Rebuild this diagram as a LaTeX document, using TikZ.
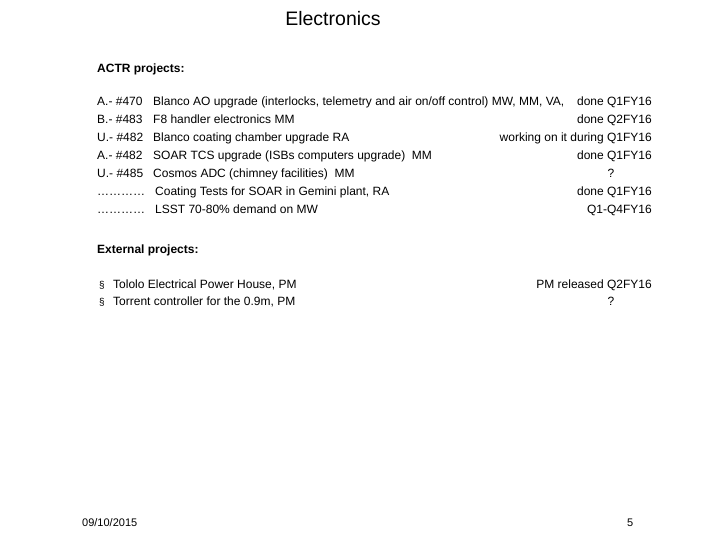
\documentclass[tikz,border=0pt]{standalone}
\usepackage{fontspec}
\setmainfont{Liberation Sans}
\begin{document}
\begin{tikzpicture}[x=1pt,y=-1pt,
  txt/.style={inner sep=0pt,anchor=base west,font=\fontsize{12}{14}\selectfont},
  rt/.style={inner sep=0pt,anchor=base east,font=\fontsize{12}{14}\selectfont},
  hd/.style={txt,font=\fontsize{12}{14}\selectfont\bfseries}]
\useasboundingbox (0,0) rectangle (720,540);
\node[inner sep=0pt,anchor=base,font=\fontsize{19.5}{22}\selectfont] (title) at (333,26) {Electronics};
\node[hd] (actr) at (97,73) {ACTR projects:};
\foreach \c/\d/\r [count=\i] in {
 {A.- \#470}/{Blanco AO upgrade (interlocks, telemetry and air on/off control) MW, MM, VA,}/{done Q1FY16},
 {B.- \#483}/{F8 handler electronics MM}/{done Q2FY16},
 {U.- \#482}/{Blanco coating chamber upgrade RA}/{working on it during Q1FY16},
 {A.- \#482}/{SOAR TCS upgrade (ISBs computers upgrade)\ \ MM}/{done Q1FY16},
 {U.- \#485}/{Cosmos ADC (chimney facilities)\ \ MM}/{},
 {…………}/{\,Coating Tests for SOAR in Gemini plant, RA}/{done Q1FY16},
 {…………}/{\,LSST 70-80\% demand on MW}/{Q1-Q4FY16}}{
  \node[txt] (c\i) at (97,88+18*\i) {\c};
  \node[txt] (d\i) at (153,88+18*\i) {\d};
  \node[rt] (r\i) at (652,88+18*\i) {\r};
}
\node[txt,anchor=base] (q1) at (611,178) {?};
\node[hd] (ext) at (97,253) {External projects:};
\node[txt,font=\fontsize{10}{12}\selectfont] (b1) at (99,288) {§};
\node[txt] (e1) at (113,288) {Tololo Electrical Power House, PM};
\node[txt,font=\fontsize{10}{12}\selectfont] (b2) at (99,305) {§};
\node[txt] (e2) at (113,305) {Torrent controller for the 0.9m, PM};
\node[rt] (f1) at (652,288) {PM released Q2FY16};
\node[txt,anchor=base] (f2) at (611,305) {?};
\node[txt,font=\fontsize{11}{13}\selectfont] (date) at (82,526) {09/10/2015};
\node[txt,font=\fontsize{11}{13}\selectfont] (pg) at (627,526) {5};
\end{tikzpicture}
\end{document}
